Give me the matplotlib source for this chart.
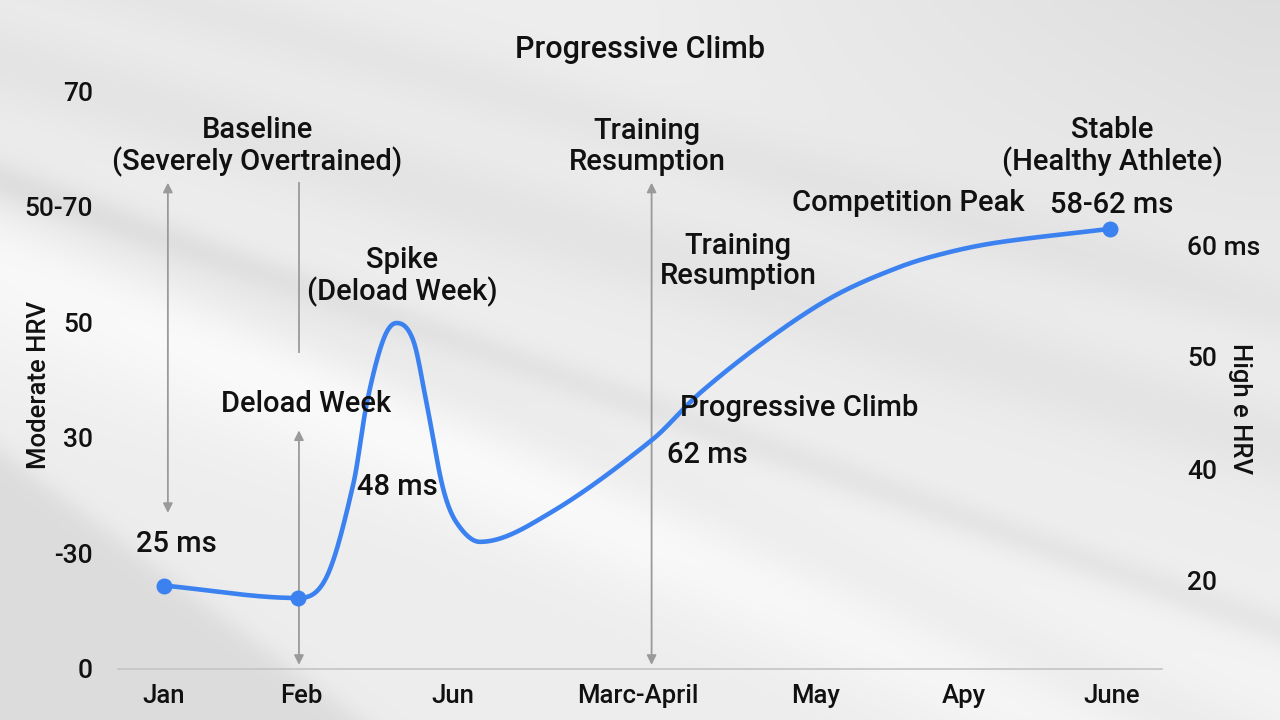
import numpy as np
import matplotlib
matplotlib.use("Agg")
import matplotlib.pyplot as plt

plt.rcParams['font.family'] = ['Roboto', 'DejaVu Sans']
plt.rcParams['font.weight'] = 'medium'
plt.rcParams['axes.labelweight'] = 'medium'

# HRV recovery curve, day of season vs. HRV reading
days = [8, 31, 36, 40.6, 42.9, 45.7, 48, 50.9, 53.2, 56, 58.4, 62.4, 74.5, 92, 100.3, 111.8, 123.3, 134.8, 143.4, 152.1, 171]
hrv = [10.1, 8.6, 11.2, 22.5, 32.2, 39.8, 41.9, 39.8, 32.2, 22.0, 17.7, 15.4, 18.9, 27.7, 33.4, 39.8, 45.1, 48.7, 50.5, 51.7, 53.3]
marker_days = [8, 31, 171]
marker_hrv = [10.1, 8.6, 53.3]

month_pos = [7.8, 31.6, 57.8, 89.7, 120.3, 145.9, 171.4]
month_labels = ["Jan", "Feb", "Jun", "Marc-April", "May", "Apy", "June"]

left_ticks = [0, 14, 28, 42, 56, 70]
left_labels = ["0", "-30", "30", "50", "50-70", "70"]
right_ticks = [10.7, 24.2, 37.8, 51.3]
right_labels = ["20", "40", "50", "60 ms"]


def smooth_curve(x, y, xs):
    """Monotone cubic Hermite curve with centred tangents (Fritsch-Carlson limited)."""
    x = np.asarray(x, float)
    y = np.asarray(y, float)
    h = np.diff(x)
    d = np.diff(y) / h
    m = np.zeros_like(y)
    for k in range(1, len(y) - 1):
        if d[k - 1] * d[k] > 0:
            m[k] = (y[k + 1] - y[k - 1]) / (x[k + 1] - x[k - 1])
    m[0] = d[0]
    m[-1] = d[-1]
    for k in range(len(d)):
        if d[k] == 0:
            m[k] = m[k + 1] = 0
            continue
        a, b = m[k] / d[k], m[k + 1] / d[k]
        s = a * a + b * b
        if s > 9:
            t = 3 / np.sqrt(s)
            m[k], m[k + 1] = t * a * d[k], t * b * d[k]
    idx = np.clip(np.searchsorted(x, xs) - 1, 0, len(x) - 2)
    t = (xs - x[idx]) / h[idx]
    h00 = 2 * t**3 - 3 * t**2 + 1
    h10 = t**3 - 2 * t**2 + t
    h01 = -2 * t**3 + 3 * t**2
    h11 = t**3 - t**2
    return h00 * y[idx] + h10 * h[idx] * m[idx] + h01 * y[idx + 1] + h11 * h[idx] * m[idx + 1]


fig = plt.figure(figsize=(12.8, 7.2), dpi=100)

# soft grey backdrop with diagonal light/shadow bands
bg_ax = fig.add_axes([0, 0, 1, 1])
bg_ax.set_axis_off()
H, W = 360, 640
vv, uu = np.mgrid[0:H, 0:W]
u = uu / W * 1280
v = vv / H * 720
base = 0.93 - 0.06 * np.clip((u - 650) / 600, 0, 1) * np.clip((330 - v) / 330, 0, 1)
def band(x0, y0, slope, width, amp):
    dist = (v - (y0 + slope * (u - x0))) / np.sqrt(1 + slope**2)
    return amp * np.exp(-(dist / width) ** 2)
img = base.copy()
img -= band(0, 180, 0.35, 18, 0.04)
img -= band(600, 120, 0.28, 35, 0.03)
img -= band(900, 330, 0.3, 45, 0.035)
img -= band(1000, 640, 0.45, 40, 0.035)
img += band(200, 330, 0.45, 60, 0.03)
img += band(700, 520, 0.3, 80, 0.025)
dark_corner = 1 / (1 + np.exp(-((v - (450 + 0.75 * u)) / 8)))
img -= 0.065 * dark_corner
img = np.clip(img, 0, 1)
bg_ax.imshow(np.dstack([img, img, img]), extent=[0, 1, 0, 1], aspect='auto', zorder=0)

ax = fig.add_axes([118 / 1280, 51 / 720, 1044 / 1280, 578 / 720])
ax.patch.set_alpha(0)
ax.set_xlim(0, 180)
ax.set_ylim(0, 70)
for s in ax.spines.values():
    s.set_visible(False)
ax.axhline(0, color='#c4c4c4', lw=1.2, clip_on=False)

ax.set_xticks(month_pos)
ax.set_xticklabels(month_labels, fontsize=18.5, color='#111111')
ax.set_yticks(left_ticks)
ax.set_yticklabels(left_labels, fontsize=19, color='#111111')
ax.tick_params(axis='both', length=0)
ax.tick_params(axis='x', pad=11)
ax.tick_params(axis='y', pad=18)
ax.set_ylabel("Moderate HRV", fontsize=18.5, color='#111111', fontweight='medium')
ax.yaxis.set_label_coords(-0.064, 0.492)

ax2 = ax.twinx()
ax2.set_ylim(0, 70)
for s in ax2.spines.values():
    s.set_visible(False)
ax2.set_yticks(right_ticks)
ax2.set_yticklabels(right_labels, fontsize=19, color='#111111')
ax2.tick_params(axis='y', length=0, pad=18)
ax2.set_ylabel("High e HRV", fontsize=18.5, color='#111111', rotation=270, fontweight='medium')
ax2.yaxis.set_label_coords(1.086, 0.45)

xs = np.linspace(days[0], days[-1], 1200)
ax.plot(xs, smooth_curve(days, hrv, xs), color='#3b82f0', lw=3.3, solid_capstyle='round', zorder=4)
ax.plot(marker_days, marker_hrv, 'o', color='#3b82f0', ms=10.5, zorder=5)

# guide arrows
arrow_kw = dict(arrowstyle='<|-|>', color='#9a9a9a', lw=1.3, mutation_scale=14, shrinkA=0, shrinkB=0)
ax.annotate('', xy=(8.6, 18.9), xytext=(8.6, 58.9), arrowprops=arrow_kw, annotation_clip=False)
ax.plot([31.2, 31.2], [38.4, 58.9], color='#9a9a9a', lw=1.3)
ax.annotate('', xy=(31.2, 0.5), xytext=(31.2, 28.9), arrowprops=arrow_kw, annotation_clip=False)
ax.annotate('', xy=(92.0, 0.5), xytext=(92.0, 58.9), arrowprops=arrow_kw, annotation_clip=False)

fig.text(0.5, 1 - 50 / 720, "Progressive Climb", ha='center', va='center', fontsize=22, color='#111111')

lab = dict(ha='center', va='center', fontsize=21, color='#111111', linespacing=1.12, zorder=6)
ax.text(24.0, 63.3, "Baseline\n(Severely Overtrained)", **lab)
ax.text(91.2, 63.3, "Training\nResumption", **lab)
ax.text(171.4, 63.3, "Stable\n(Healthy Athlete)", **lab)
ax.text(136.2, 56.4, "Competition Peak", **lab)
ax.text(171.4, 56.2, "58-62 ms", **lab)
ax.text(106.9, 49.4, "Training\nResumption", **lab)
ax.text(49.0, 47.5, "Spike\n(Deload Week)", **lab)
ax.text(32.4, 32.1, "Deload Week", **lab)
ax.text(117.4, 31.6, "Progressive Climb", **lab)
ax.text(101.6, 25.9, "62 ms", **lab)
ax.text(48.1, 22.0, "48 ms", **lab)
ax.text(10.0, 15.1, "25 ms", **lab)

fig.savefig("out.png", dpi=100)
